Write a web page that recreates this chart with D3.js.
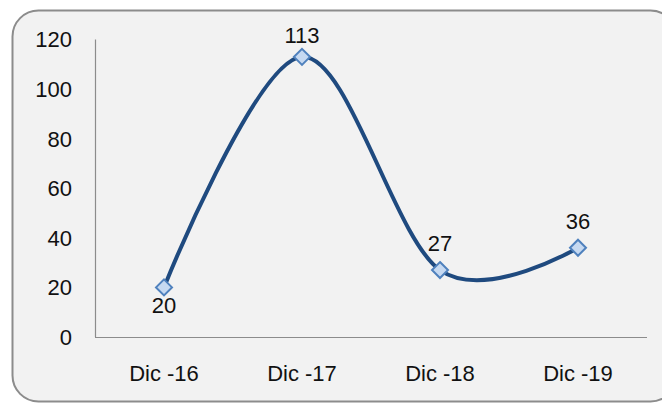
<!DOCTYPE html>
<html><head><meta charset="utf-8">
<script src="https://cdn.jsdelivr.net/npm/d3@7"></script>
<style>body{margin:0;background:#fff}svg{display:block}</style>
</head><body>
<script>
const categories = ["Dic -16", "Dic -17", "Dic -18", "Dic -19"];
const values = [20, 113, 27, 36];
const yTicks = [0, 20, 40, 60, 80, 100, 120];
const labelPos = ["below", "above", "above", "above"];

const W = 662, H = 403;
const svg = d3.select("body").append("svg").attr("width", W).attr("height", H);
svg.append("rect").attr("x", 12.5).attr("y", 10.5).attr("width", 664).attr("height", 391)
  .attr("rx", 26).attr("fill", "#f2f2f2").attr("stroke", "#8c8c8c").attr("stroke-width", 2);

const x = d3.scaleBand().domain(categories).range([95, 647]);
const y = d3.scaleLinear().domain([0, 120]).range([337, 39.5]);
const font = "'Liberation Sans', Arial, sans-serif";

svg.append("line").attr("x1", 95.5).attr("x2", 95.5).attr("y1", y(120)).attr("y2", y(0))
  .attr("stroke", "#8c8c8c").attr("stroke-width", 1.2);
svg.append("line").attr("x1", 95).attr("x2", 647).attr("y1", y(0) + 0.5).attr("y2", y(0) + 0.5)
  .attr("stroke", "#8c8c8c").attr("stroke-width", 1.2);

svg.selectAll(".yt").data(yTicks).enter().append("text")
  .attr("x", 72).attr("y", d => y(d)).attr("dy", "0.36em").attr("text-anchor", "end")
  .attr("font-family", font).attr("font-size", 22).attr("fill", "#111").text(d => d);

svg.selectAll(".xt").data(categories).enter().append("text")
  .attr("x", d => x(d) + x.bandwidth() / 2).attr("y", 373.5).attr("dy", "0.36em").attr("text-anchor", "middle")
  .attr("font-family", font).attr("font-size", 22).attr("fill", "#111").text(d => d);

const pts = categories.map((c, i) => [x(c) + x.bandwidth() / 2, y(values[i])]);
svg.append("path").attr("d", d3.line().curve(d3.curveCatmullRom.alpha(0))(pts))
  .attr("fill", "none").attr("stroke", "#1f4a7f").attr("stroke-width", 4);

const s = 8;
svg.selectAll(".mk").data(pts).enter().append("path")
  .attr("d", d => `M${d[0]},${d[1]-s}L${d[0]+s},${d[1]}L${d[0]},${d[1]+s}L${d[0]-s},${d[1]}Z`)
  .attr("fill", "#c6d9f1").attr("stroke", "#4f81bd").attr("stroke-width", 2);

svg.selectAll(".dl").data(pts).enter().append("text")
  .attr("x", d => d[0]).attr("y", (d, i) => labelPos[i] === "below" ? d[1] + 18 : Math.max(35, d[1] - 27))
  .attr("dy", "0.36em").attr("text-anchor", "middle")
  .attr("font-family", font).attr("font-size", 22).attr("fill", "#111")
  .text((d, i) => values[i]);
</script>
</body></html>
